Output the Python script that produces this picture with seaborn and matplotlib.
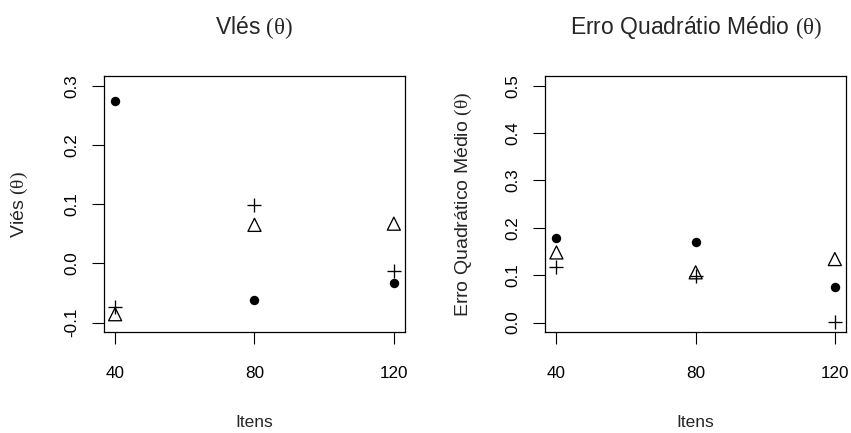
import matplotlib
matplotlib.use("Agg")
import matplotlib.pyplot as plt
import seaborn as sns
import pandas as pd

# ---- data ----
itens = [40, 80, 120]
vies_ponto = [0.275, -0.062, -0.033]
vies_mais = [-0.073, 0.099, -0.0125]
vies_triang = [-0.086, 0.065, 0.067]
eqm_ponto = [0.179, 0.171, 0.075]
eqm_mais = [0.118, 0.098, 0.002]
eqm_triang = [0.148, 0.106, 0.134]

x_ticks = [40, 80, 120]
vies_ticks = [-0.1, 0.0, 0.1, 0.2, 0.3]
eqm_ticks = [0.0, 0.1, 0.2, 0.3, 0.4, 0.5]

sns.set_style("ticks")
plt.rcParams["font.family"] = ["Liberation Sans", "DejaVu Sans"]
plt.rcParams["mathtext.fontset"] = "custom"
plt.rcParams["mathtext.rm"] = "Liberation Serif"
plt.rcParams["mathtext.it"] = "Liberation Serif:italic"
plt.rcParams["mathtext.bf"] = "Liberation Serif:bold"

fig = plt.figure(figsize=(8.51, 4.33), dpi=100)
ax1 = fig.add_axes([0.1222, 0.2333, 0.3537, 0.5905])
ax2 = fig.add_axes([0.6408, 0.2333, 0.3533, 0.5905])


def draw(ax, ponto, mais, triang):
    df_p = pd.DataFrame({"Itens": itens, "v": ponto})
    df_m = pd.DataFrame({"Itens": itens, "v": mais})
    df_t = pd.DataFrame({"Itens": itens, "v": triang})
    sns.scatterplot(data=df_p, x="Itens", y="v", ax=ax, marker="o", s=46,
                    color="black", linewidth=0, zorder=3)
    sns.scatterplot(data=df_m, x="Itens", y="v", ax=ax, marker="+", s=105,
                    color="black", linewidth=0.95, zorder=3)
    sns.scatterplot(data=df_t, x="Itens", y="v", ax=ax, marker="^", s=88,
                    facecolor="none", edgecolor="black", linewidth=0.95, zorder=3)


draw(ax1, vies_ponto, vies_mais, vies_triang)
draw(ax2, eqm_ponto, eqm_mais, eqm_triang)

ax1.set_xlim(36.8, 123.2)
ax2.set_xlim(36.8, 123.2)
ax1.set_ylim(-0.116, 0.316)
ax2.set_ylim(-0.02, 0.52)
ax1.set_yticks(vies_ticks)
ax2.set_yticks(eqm_ticks)
ax1.set_yticklabels([f"{v:.1f}" for v in vies_ticks])
ax2.set_yticklabels([f"{v:.1f}" for v in eqm_ticks])

for ax in (ax1, ax2):
    ax.set_xticks(x_ticks)
    ax.set_xticklabels([str(v) for v in x_ticks])
    for sp in ax.spines.values():
        sp.set_visible(True)
        sp.set_linewidth(0.9)
        sp.set_color("black")
    ax.tick_params(axis="both", direction="out", length=8.5, width=0.8,
                   color="black", labelsize=12.3, labelcolor="black")
    ax.tick_params(axis="x", pad=16)
    ax.tick_params(axis="y", pad=9.3)
    for lab in ax.get_yticklabels():
        lab.set_rotation(90)
        lab.set_va("center")
        lab.set_ha("right")
    ax.set_xlabel("Itens", fontsize=12.5)
    ax.xaxis.set_label_coords(0.5, -0.3246)
    ax.grid(False)

ax1.set_ylabel(r"Viés $\mathrm{(\theta)}$", fontsize=14)
ax1.yaxis.set_label_coords(-0.2445, 0.5)
ax2.set_ylabel(r"Erro Quadrático Médio $\mathrm{(\theta)}$", fontsize=14)
ax2.yaxis.set_label_coords(-0.236, 0.5)

ax1.text(0.5, 1.164, r"Vlés $\mathrm{(\theta)}$", transform=ax1.transAxes,
         ha="center", va="baseline", fontsize=16.5)
ax2.text(0.5, 1.164, r"Erro Quadrátio Médio $\mathrm{(\theta)}$", transform=ax2.transAxes,
         ha="center", va="baseline", fontsize=16.5)

fig.savefig("out.png", dpi=100, facecolor="white")
